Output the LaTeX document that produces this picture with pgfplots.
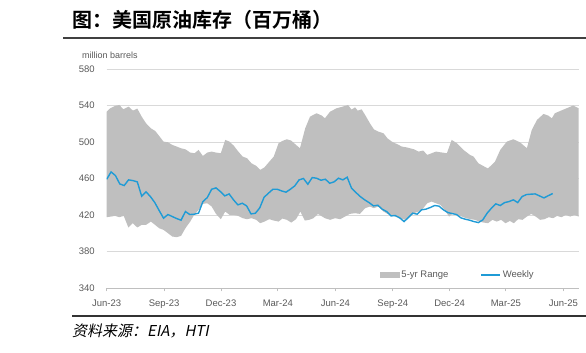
\documentclass[border=0pt]{standalone}
\usepackage{fontspec}
\setmainfont{Liberation Sans}
\newfontfamily\cjk{Noto Sans CJK SC}[BoldFont={Noto Sans CJK SC Bold}]
\newfontfamily\cjkit{Noto Sans CJK SC}[FakeSlant=0.2]
\usepackage{pgfplots}
\usepackage{pgfplotstable}
\pgfplotsset{compat=1.18}
\definecolor{bandc}{RGB}{191,191,191}
\definecolor{bluec}{RGB}{31,155,214}
\definecolor{gridc}{RGB}{217,217,217}
\definecolor{tickc}{RGB}{89,89,89}

% 5-yr range: upper edge (left to right), then lower edge (right to left)
\pgfplotstableread{
w v
0 533.3
0.8 536.9
1.9 539.5
2.9 540.6
3.8 535.8
5.0 538.8
6.0 534.4
7.0 536.6
8.0 527.8
9.0 520.5
10.1 515
11.1 512.1
12.0 506.6
13.0 500.4
14.0 499.7
15.0 496.8
16.0 495
17.0 493.1
18.0 492
19.1 488.4
20.1 487.7
21.0 491.3
22.0 484.7
23.0 488.4
24.0 489.5
25.0 488.4
26.1 487.7
27.1 502.3
28.1 500.4
29.1 495.7
30.1 489.5
31.1 484
32.1 482.2
33.1 476.7
34.2 473.8
35.1 469.4
36.1 472.3
37.2 478.5
38.2 484
39.3 498.6
40.2 501.2
41.2 503
42.2 501.5
43.3 496.8
44.2 493.2
45.4 515
46.5 527.8
48.0 531.5
49.2 528.9
49.9 526
51.1 533.3
52.6 537
54.0 538.8
55.2 540.6
56.0 535.5
56.8 538
57.4 534.4
58.3 535.8
59.1 529.6
60.2 520.5
61.1 513.9
62.1 511.4
63.3 509.6
64.2 504.1
65.2 500.4
66.3 497.9
67.5 495
68.5 494.2
69.4 493.1
70.3 492
71.3 489.5
72.4 490.6
73.3 485.8
74.3 487.7
75.3 489.5
76.2 488.8
77.8 487.7
78.9 502.3
80.1 498.6
81.6 491.3
83.1 485.8
83.9 484
85.0 476.7
86.0 474
87.2 471
88.8 478.5
90.0 491.3
91.5 500.4
93.0 503
94.5 499.7
96.1 493.2
97.2 513
98.4 524.2
99.9 530.7
101.0 528.9
101.8 526
102.5 531.5
103.7 534
105.2 537
106.7 540
107.9 537
107.9 418.3
107.0 420.1
106.0 418.3
105.0 420.1
104.0 417.6
103.0 419
102.1 416.5
101.1 417.6
100.1 415.4
99.1 414.7
98.1 418.3
97.1 421.2
96.1 418.3
95.1 414.7
94.1 415.4
93.1 411
92.2 413.5
91.2 411
90.2 414.7
89.2 412.8
88.2 414.7
87.2 411
86.2 411.7
85.2 412.8
84.2 414.7
83.2 415.4
82.2 416.5
81.2 418.3
80.3 420.1
79.3 422
78.3 418.3
77.3 425.6
76.3 431.1
75.3 432.9
74.3 434.7
73.3 432.9
72.4 427.4
71.3 423.8
70.3 422
69.4 418.3
68.5 414.7
67.5 415.4
66.3 417.6
65.2 420.1
64.2 421.2
63.3 423.8
62.1 429.3
61.1 427.4
60.2 429.3
59.1 427.4
57.9 421.2
56.8 422
55.6 421.2
54.5 418.3
53.4 415.4
52.2 416.5
51.1 414.7
49.9 416.5
48.3 421.2
47.3 416.5
46.3 414.7
45.3 413.9
44.3 423.8
43.3 415.4
42.2 411.7
41.2 414.7
40.2 416.1
39.3 412.8
38.2 413.9
37.2 415.4
36.1 412.8
35.1 411
34.2 414.7
33.1 416.5
32.1 415.4
31.1 416.5
30.1 419
29.1 420.1
28.1 420.1
27.1 423.8
26.1 415.4
25.0 421.2
24.0 429.3
23.0 432.9
21.95 432.2
21.0 425.6
20.0 420.1
19.1 412.8
18.0 405.5
17.0 397.1
16.0 395.7
15.0 396.4
14.0 400.1
13.0 403.7
12.0 405.5
11.05 409.2
10.1 412.8
9.0 409.2
8.0 409.2
7.0 406.3
5.95 411
4.95 406.3
3.9 419
2.9 417.6
1.9 419
1.0 418.3
0 417.6
}\bandtab

\pgfplotstableread{
w v
0 459.2
1 467.2
2 463.2
3 454
4 452.3
5 458.5
6 457.7
7 456.3
8 440.6
9 445.3
10 440.2
11 433.6
12 424.9
13 416.5
14 420.5
15 418.3
16 416.1
17 414.3
18 423.8
19 420.5
20 420.9
21 422
22 434.7
23 439.1
24 448.2
25 449.7
26 445.7
27 440.9
28 443.1
29 436.6
30 431.1
31 432.9
32 430
33 421.2
34 421.9
35 427.8
36 439.5
37 443.9
38 448.2
39 448.2
40 446.4
41 445
42 448.2
43 451.9
44 458.5
45 460
46 453.7
47 461
48 460.3
49 458.1
50 459.2
51 454.8
52 456.3
53 460.3
54 458.5
55 461.4
56 449.3
57 444.6
58 440.2
59 436.6
60 433.6
61 430
62 430.7
63 426.4
64 423.8
65 419
66 419.4
67 416.9
68 412.8
69 417.2
70 422
71 420.9
72 425.7
73 426.4
74 428.2
75 430.4
76 429.7
77 425.7
78 422.7
79 421.6
80 420.5
81 416.9
82 415.4
83 414.3
84 412.8
85 411.7
86 414.6
87 422
88 427.5
89 432.2
90 430.4
91 433.6
92 434.7
93 436.6
94 433.6
95 440.2
96 442.4
97 442.8
98 443.1
99 440.9
100 438.7
101 441.2
102 443.5
}\weeklytab

\begin{document}
\begin{tikzpicture}
\useasboundingbox (0pt,0pt) rectangle (586pt,353pt);
\node[anchor=west, inner sep=0pt] at (72pt,333pt) {\cjk\bfseries\fontsize{20}{22}\selectfont 图：美国原油库存（百万桶）};
\draw[line width=1.3pt, black!75] (63pt,315pt) -- (586pt,315pt);
\draw[line width=1.2pt, black!80] (72pt,37pt) -- (586pt,37pt);
\node[anchor=west, inner sep=0pt] at (72pt,22pt) {\cjkit\fontsize{15}{17}\selectfont 资料来源：EIA，HTI};
\node[anchor=west, inner sep=0pt, text=tickc] at (82pt,298pt) {\fontsize{9}{10}\selectfont million barrels};
\begin{axis}[
  at={(106.7pt,65pt)}, anchor=south west, scale only axis,
  width=471.8pt, height=219pt,
  xmin=0, xmax=107.9, ymin=340, ymax=580,
  ytick={340,380,420,460,500,540,580},
  xtick={0,13.14,26.14,39.14,52.29,65.43,78.43,91.29,104.43},
  xticklabels={Jun-23,Sep-23,Dec-23,Mar-24,Jun-24,Sep-24,Dec-24,Mar-25,Jun-25},
  ymajorgrids, grid style={gridc, line width=0.9pt},
  axis lines*=left,
  y axis line style={draw=none},
  x axis line style={bandc, line width=0.9pt},
  ytick style={draw=none},
  xtick style={bandc, line width=0.9pt},
  tick align=outside, major tick length=3.5pt,
  /pgf/number format/assume math mode=true,
  ticklabel style={font=\fontsize{9.5}{10}\selectfont, text=tickc},
  yticklabel style={inner sep=0pt, xshift=-8.3pt},
  xticklabel style={inner sep=0pt, yshift=-8pt},
  legend style={at={(0.579,0.059)}, anchor=west, draw=none, fill=none,
    inner sep=0pt, font=\fontsize{9.5}{10}\selectfont, text=tickc,
    legend columns=2, /tikz/every even column/.append style={column sep=30pt}},
  legend cell align=left,
]
\addplot[fill=bandc, draw=none, forget plot] table[x=w,y=v] {\bandtab};
\addplot[bluec, line width=1.4pt, forget plot] table[x=w,y=v] {\weeklytab};
\addlegendimage{legend image code/.code={\fill[bandc] (0pt,-2.5pt) rectangle (19pt,2.5pt);}}
\addlegendentry{5-yr Range}
\addlegendimage{legend image code/.code={\draw[bluec, line width=1.3pt] (0pt,0pt) -- (19pt,0pt);}}
\addlegendentry{Weekly}
\end{axis}
\end{tikzpicture}
\end{document}
